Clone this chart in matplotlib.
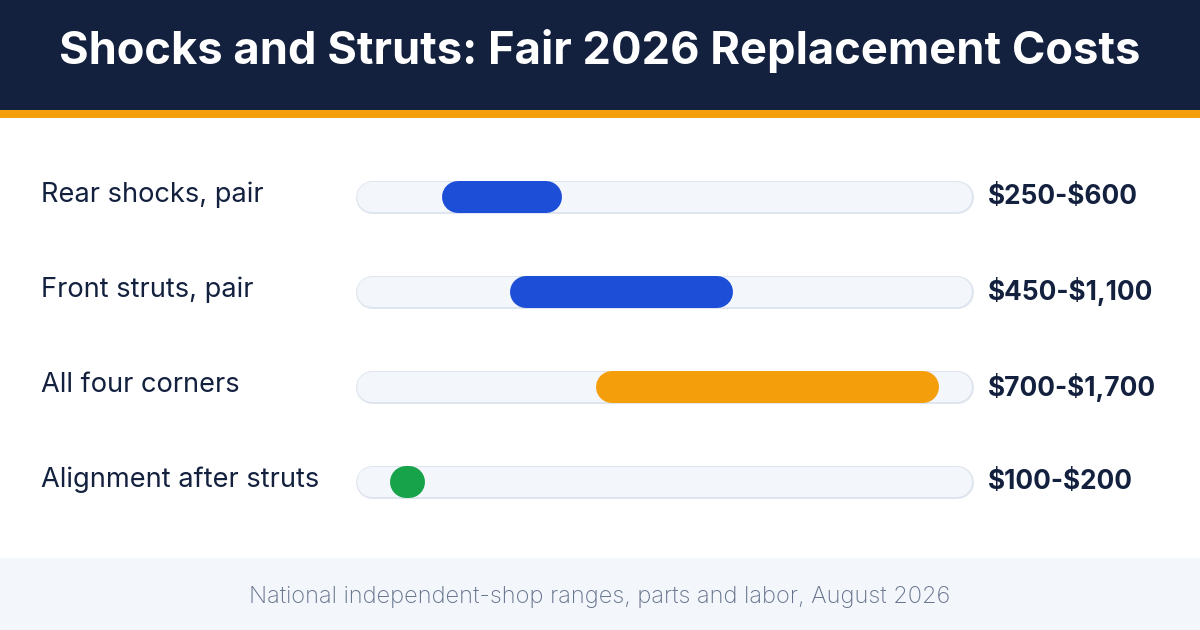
import matplotlib
matplotlib.use("Agg")
import matplotlib.pyplot as plt
from matplotlib.patches import Rectangle
from matplotlib.transforms import blended_transform_factory

# ---- data ----
categories = ["Rear shocks, pair", "Front struts, pair", "All four corners", "Alignment after struts"]
low_values = [250, 450, 700, 100]
high_values = [600, 1100, 1700, 200]
bar_colors = ["#1d4ed8", "#1d4ed8", "#f59e0b", "#16a34a"]
scale_max = 1800
title = "Shocks and Struts: Fair 2026 Replacement Costs"
footnote = "National independent-shop ranges, parts and labor, August 2026"

W, H = 1200, 630
NAVY = "#13213f"
FONT = ["Inter", "DejaVu Sans"]
fig = plt.figure(figsize=(W / 100, H / 100), dpi=100)
fig.patch.set_facecolor("white")

# background / decorations in pixel coordinates
bg = fig.add_axes([0, 0, 1, 1])
bg.set_xlim(0, W)
bg.set_ylim(H, 0)
bg.axis("off")
bg.add_patch(Rectangle((0, 0), W, 110, color=NAVY, lw=0))
bg.add_patch(Rectangle((0, 110), W, 8, color="#f59e0b", lw=0))
bg.add_patch(Rectangle((0, 558), W, 72, color="#f3f6fb", lw=0))
bg.text(W / 2, 51, title, ha="center", va="center", color="white",
        fontsize=32.6, fontweight="bold", family=FONT)
bg.text(W / 2, 597, footnote, ha="center", va="center", color="#66738c",
        fontsize=17, fontweight="light", family=FONT)

# bar axes
x0, x1 = 356, 973
y_top, y_bot = 149.5, 529.5
ax = fig.add_axes([x0 / W, 1 - y_bot / H, (x1 - x0) / W, (y_bot - y_top) / H])
ax.set_xlim(0, scale_max)
ax.set_ylim(len(categories) - 0.5, -0.5)
ax.axis("off")

px_per_x = (x1 - x0) / scale_max
bar_px = 32
r_x = (bar_px / 2) / px_per_x          # cap radius in data units
pt = 72 / 100                          # points per pixel

for i in range(len(categories)):
    # track: outline then fill
    ax.plot([r_x, scale_max - r_x], [i, i], color="#dfe5ee", lw=(bar_px + 1) * pt,
            solid_capstyle="round", clip_on=False, zorder=1)
    ax.plot([r_x, scale_max - r_x], [i, i], color="#f3f6fb", lw=(bar_px - 2) * pt,
            solid_capstyle="round", clip_on=False, zorder=2)
    lo, hi = low_values[i], high_values[i]
    a, b = lo + r_x, hi - r_x
    if a > b:
        a = b = (lo + hi) / 2
    ax.plot([a, b], [i, i], color=bar_colors[i], lw=bar_px * pt,
            solid_capstyle="round", clip_on=False, zorder=3)

tr = blended_transform_factory(fig.transFigure, ax.transData)
for i, cat in enumerate(categories):
    ax.text(41 / W, i - 0.02, cat, transform=tr, ha="left", va="center",
            fontsize=19.6, color=NAVY, family=FONT)
    ax.text(988 / W, i, f"\\${low_values[i]:,}-\\${high_values[i]:,}", transform=tr,
            ha="left", va="center", fontsize=18.9, fontweight="bold", color=NAVY,
            family=FONT)

fig.savefig("out.png", dpi=100, facecolor="white")
